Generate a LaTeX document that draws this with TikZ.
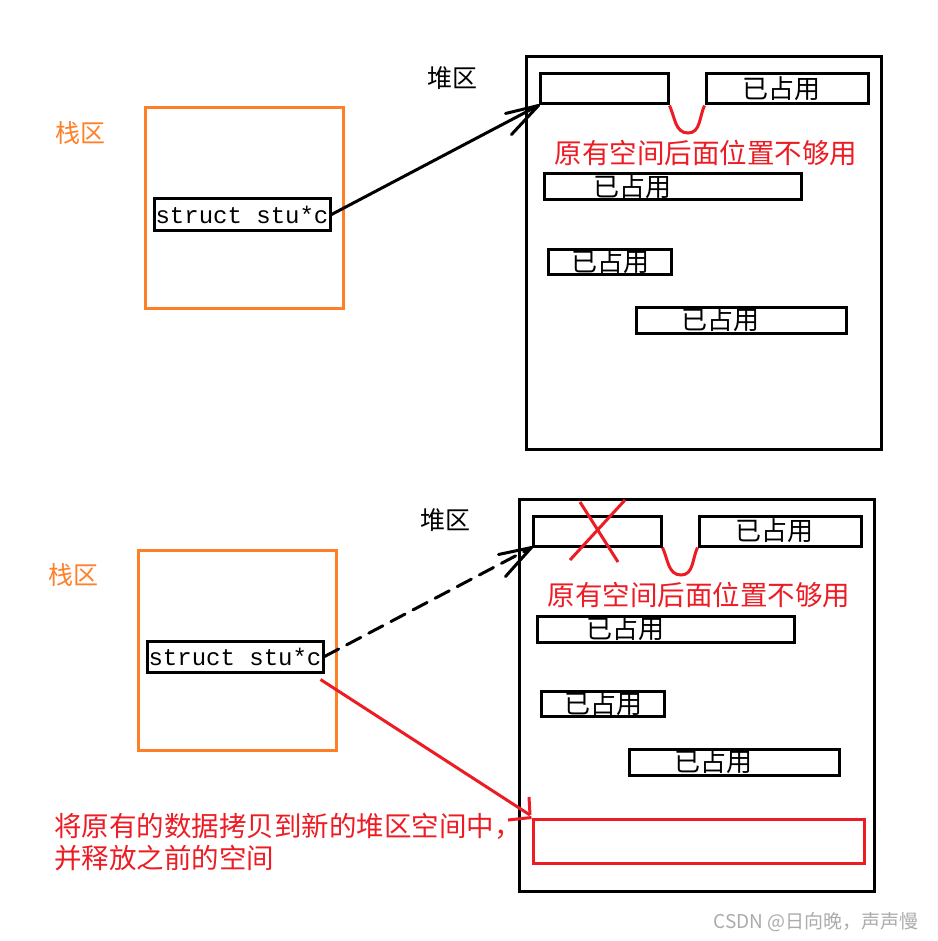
\documentclass[tikz,border=0pt]{standalone}
\usepackage{fontspec}
\setmainfont{Noto Sans CJK SC}
\newfontfamily\monof{Liberation Mono}
\usetikzlibrary{calc}
\definecolor{ored}{RGB}{237,28,36}
\definecolor{oorange}{RGB}{255,127,39}
\begin{document}
\begin{tikzpicture}[x=1pt,y=-1pt,
  bx/.style={draw=black,line width=3pt,inner sep=0pt,minimum width=#1},
  heap/.style={draw=black,line width=3pt,inner sep=0pt,minimum width=355pt,minimum height=392pt},
  stack/.style={draw=oorange,line width=3pt,inner sep=0pt,minimum width=198pt,minimum height=200pt},
  sbox/.style={draw=black,line width=3pt,inner sep=0pt,minimum width=176pt,minimum height=31pt,font=\monof\fontsize{24}{26}\selectfont},
  cn/.style={font=\fontsize{26}{30}\selectfont,inner sep=0pt},
  rtext/.style={cn,text=ored,font=\fontsize{27.5}{32}\selectfont},
  otext/.style={cn,text=oorange,font=\fontsize{25}{30}\selectfont},
  redl/.style={draw=ored,line width=3pt},
  arr/.style={line width=3pt,line cap=round}
]
\useasboundingbox (0,0) rectangle (937,941);
% ================= top =================
\node[otext] (zl1) at (80,133) {栈区};
\node[stack] (st1) at (244,208) {};
\node[sbox] (s1) at (242,214.5) {struct stu*c};
\node[cn,font=\fontsize{25}{30}\selectfont] (dq1) at (452,78) {堆区};
\node[heap] (h1) at (703.5,253) {};
\node[bx=128pt,minimum height=30pt] (a1) at (604,89) {};
\node[bx=162pt,minimum height=30pt] (b1) at (787,89) {};
\node[cn] (tb1) at (781,89) {已占用};
\draw[redl] (a1.south east) to[out=-65,in=180] (688,133) to[out=0,in=-115] (b1.south west);
\node[rtext] (r1) at (706,153) {原有空间后面位置不够用};
\node[bx=257pt,minimum height=26pt] (c1) at (672.5,187) {};
\node[cn] (tc1) at (632,187) {已占用};
\node[bx=123pt,minimum height=25pt] (d1) at (609.5,261.5) {};
\node[cn] (td1) at (610,261.5) {已占用};
\node[bx=210pt,minimum height=26pt] (e1) at (741,320) {};
\node[cn] (te1) at (720,320) {已占用};
\draw[arr] (s1.east) -- (a1.south west);
\draw[arr] ($(a1.south west)+(-33,8)$) -- (a1.south west);
\draw[arr] ($(a1.south west)+(-27,29)$) -- (a1.south west);
% ================= bottom =================
\begin{scope}[shift={(-7,442)}]
\node[otext] (zl2) at (80,133) {栈区};
\node[stack] (st2) at (244,208) {};
\node[sbox] (s2) at (242,214.5) {struct stu*c};
\node[cn,font=\fontsize{25}{30}\selectfont] (dq2) at (452,78) {堆区};
\node[heap] (h2) at (703.5,253) {};
\node[bx=128pt,minimum height=30pt] (a2) at (604,89) {};
\node[bx=162pt,minimum height=30pt] (b2) at (787,89) {};
\node[cn] (tb2) at (781,89) {已占用};
\draw[redl] (a2.south east) to[out=-65,in=180] (688,133) to[out=0,in=-115] (b2.south west);
\node[rtext] (r2) at (706,153) {原有空间后面位置不够用};
\node[bx=257pt,minimum height=26pt] (c2) at (672.5,187) {};
\node[cn] (tc2) at (632,187) {已占用};
\node[bx=123pt,minimum height=25pt] (d2) at (609.5,261.5) {};
\node[cn] (td2) at (610,261.5) {已占用};
\node[bx=210pt,minimum height=26pt] (e2) at (741,320) {};
\node[cn] (te2) at (720,320) {已占用};
% red cross
\coordinate (x1) at (587,60);
\coordinate (x2) at (625,120);
\coordinate (x3) at (632,58);
\coordinate (x4) at (577,118);
\draw[redl] (x1) -- (x2);
\draw[redl] (x3) -- (x4);
\draw[arr,dash pattern=on 16pt off 9pt] (s2.east) -- (a2.south west);
\draw[arr] ($(a2.south west)+(-33,7)$) -- (a2.south west);
\draw[arr] ($(a2.south west)+(-26,29)$) -- (a2.south west);
% new space
\node[draw=ored,line width=3pt,inner sep=0pt,minimum width=331pt,minimum height=44pt] (nw) at (705.5,399) {};
\coordinate (ne) at (537,373);
\draw[redl] ($(s2.south east)+(-4,6)$) -- (ne);
\draw[redl] (536,355) -- (ne);
\draw[redl] (515,378) -- (nw.north west);
\node[rtext,anchor=west] (ln1) at (61,384) {将原有的数据拷贝到新的堆区空间中，};
\node[rtext,anchor=west] (ln2) at (61,416) {并释放之前的空间};
\end{scope}
\node[font=\fontsize{19}{22}\selectfont,text=black!33,inner sep=0pt] (wm) at (816,922) {CSDN @日向晚，声声慢};
\end{tikzpicture}
\end{document}
